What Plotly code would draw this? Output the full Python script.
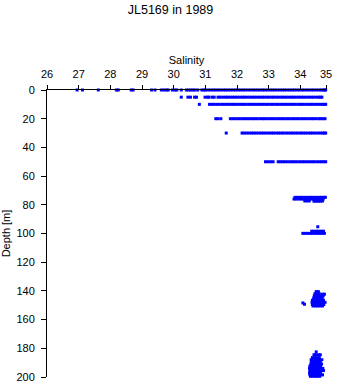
import plotly.graph_objects as go

# ---- data ----
x_tick_vals = [26, 27, 28, 29, 30, 31, 32, 33, 34, 34.81]
x_tick_text = ["26", "27", "28", "29", "30", "31", "32", "33", "34", "35"]
y_tick_vals = [0, 20, 40, 60, 80, 100, 120, 140, 160, 180, 200]

# Surface (0 m)
depth_0 = 0
sal_0 = [26.95, 27.12, 27.62, 28.19, 28.25, 28.66, 28.72, 29.30, 29.41, 29.61, 29.69,
         29.77, 29.83, 29.96, 30.04, 30.10, 30.24, 30.40, 30.47, 30.54, 30.61, 30.67,
         30.76, 30.89, 30.96, 31.01,
         31.10, 31.18, 31.26, 31.33, 31.41, 31.49, 31.57, 31.64, 31.72, 31.80, 31.88,
         31.95, 32.03, 32.11, 32.19, 32.26, 32.34, 32.42, 32.50, 32.57, 32.65, 32.73,
         32.81, 32.88, 32.96, 33.04, 33.12, 33.19, 33.27, 33.35, 33.43, 33.50, 33.58,
         33.66, 33.74, 33.81, 33.89, 33.97, 34.05, 34.12, 34.20, 34.28, 34.36, 34.43,
         34.51, 34.59, 34.66, 34.72, 34.77, 34.80]

# 5 m
depth_5 = 5
sal_5 = [30.24, 30.45, 30.53, 30.66, 30.72, 30.99, 31.07, 31.11, 31.21, 31.28,
         31.40, 31.47, 31.55, 31.63, 31.70, 31.78, 31.86, 31.93, 32.01, 32.09, 32.17,
         32.24, 32.32, 32.40, 32.48, 32.55, 32.63, 32.71, 32.79, 32.86, 32.94, 33.02,
         33.10, 33.17, 33.25, 33.33, 33.41, 33.48, 33.56, 33.64, 33.72, 33.79, 33.87,
         33.95, 34.03, 34.10, 34.18, 34.26, 34.34, 34.41, 34.49, 34.57, 34.63, 34.68]

# 10 m
depth_10 = 10
sal_10 = [30.81,
          31.13, 31.21, 31.28, 31.36, 31.44, 31.52, 31.59, 31.67, 31.75, 31.83, 31.90,
          31.98, 32.06, 32.14, 32.21, 32.29, 32.37, 32.45, 32.52, 32.60, 32.68, 32.76,
          32.83, 32.91, 32.99, 33.07, 33.14, 33.22, 33.30, 33.38, 33.45, 33.53, 33.61,
          33.69, 33.76, 33.84, 33.92, 34.00, 34.07, 34.15, 34.23, 34.31, 34.38, 34.46,
          34.54, 34.62, 34.69, 34.75, 34.80]

# 20 m
depth_20 = 20
sal_20 = [31.33, 31.40, 31.49,
          31.79, 31.87, 31.94, 32.02, 32.10, 32.18, 32.25, 32.33, 32.41, 32.49, 32.56,
          32.64, 32.72, 32.80, 32.87, 32.95, 33.03, 33.11, 33.18, 33.26, 33.34, 33.42,
          33.49, 33.57, 33.65, 33.73, 33.80, 33.88, 33.96, 34.04, 34.11, 34.19, 34.27,
          34.35, 34.42, 34.50, 34.58, 34.65, 34.72, 34.78]

# 30 m
depth_30 = 30
sal_30 = [31.66, 32.16, 32.22,
          32.30, 32.38, 32.46, 32.53, 32.61, 32.69, 32.77, 32.84, 32.92, 33.00, 33.08,
          33.15, 33.23, 33.31, 33.39, 33.46, 33.54, 33.62, 33.70, 33.77, 33.85, 33.93,
          34.01, 34.08, 34.16, 34.24, 34.32, 34.39, 34.47, 34.55, 34.63, 34.70, 34.76,
          34.80]

# 50 m
depth_50 = 50
sal_50 = [32.90, 32.98, 33.06, 33.14,
          33.30, 33.37, 33.44, 33.51, 33.59, 33.67, 33.75, 33.82, 33.90, 33.98, 34.06,
          34.13, 34.21, 34.29, 34.37, 34.44, 34.52, 34.60, 34.67, 34.74, 34.80]

# deeper scattered samples (salinity, depth pairs)
sal_deep = [
    # ~75 m
    33.83, 33.91, 33.99, 34.06, 34.14, 34.22, 34.30, 34.37, 34.45, 34.53, 34.61,
    34.68, 34.75, 34.79,
    33.80, 33.87, 33.95, 34.03, 34.10, 34.18, 34.26, 34.34, 34.41, 34.49, 34.57,
    34.65, 34.72, 34.82,
    34.14, 34.21, 34.28, 34.43, 34.50, 34.57, 34.64, 34.70,
    # ~95-100 m
    34.55,
    34.36, 34.43, 34.51, 34.58, 34.66, 34.73,
    34.08, 34.15, 34.23, 34.31, 34.38, 34.46, 34.54, 34.61, 34.69, 34.76, 34.82,
    # ~140-150 m
    34.50, 34.57,
    34.46, 34.53, 34.60, 34.70, 34.76,
    34.44, 34.51, 34.58, 34.65, 34.72,
    34.42, 34.49, 34.56, 34.63, 34.69,
    34.38, 34.45, 34.52, 34.59, 34.66, 34.73, 34.82,
    34.37, 34.44, 34.51, 34.58, 34.65, 34.72, 34.78, 34.86,
    34.38, 34.45, 34.52, 34.59, 34.66, 34.74,
    34.40, 34.48, 34.55, 34.62, 34.70,
    34.08, 34.13,
    # ~182-200 m
    34.50,
    34.43, 34.48, 34.57, 34.63,
    34.38, 34.45, 34.52, 34.60,
    34.34, 34.41, 34.48, 34.55, 34.62, 34.68,
    34.35, 34.42, 34.49, 34.56, 34.63,
    34.33, 34.40, 34.47, 34.54, 34.61, 34.67,
    34.30, 34.37, 34.44, 34.51, 34.58, 34.64,
    34.29, 34.36, 34.43, 34.50, 34.57, 34.64, 34.71,
    34.30, 34.37, 34.44, 34.51, 34.58, 34.65, 34.73,
    34.29, 34.36, 34.43, 34.50, 34.57, 34.64,
    34.30, 34.37, 34.44, 34.51, 34.58, 34.65, 34.70,
    34.32, 34.40, 34.47, 34.54, 34.61, 34.84,
]
depth_deep = [
    74.8, 74.8, 74.8, 74.8, 74.8, 74.8, 74.8, 74.8, 74.8, 74.8, 74.8,
    74.8, 74.8, 74.8,
    76.0, 76.0, 76.0, 76.0, 76.0, 76.0, 76.0, 76.0, 76.0, 76.0, 76.0,
    76.0, 76.0, 76.0,
    77.3, 77.3, 77.3, 77.5, 77.5, 77.5, 77.5, 77.3,
    95.3,
    98.4, 98.4, 98.4, 98.4, 98.4, 98.4,
    99.9, 99.9, 99.9, 99.9, 99.9, 99.9, 99.9, 99.9, 99.9, 99.9, 99.9,
    140.5, 140.5,
    142.0, 142.0, 142.0, 142.3, 142.3,
    143.5, 143.5, 143.5, 143.5, 143.5,
    145.0, 145.0, 145.0, 145.0, 145.0,
    146.5, 146.5, 146.5, 146.5, 146.5, 146.5, 146.8,
    148.0, 148.0, 148.0, 148.0, 148.0, 148.0, 148.0, 147.6,
    149.5, 149.5, 149.5, 149.5, 149.5, 149.5,
    150.5, 150.5, 150.5, 150.5, 150.5,
    148.4, 149.3,
    182.5,
    184.5, 184.5, 184.5, 184.5,
    186.5, 186.5, 186.5, 186.5,
    188.0, 188.0, 188.0, 188.0, 188.0, 188.0,
    189.5, 189.5, 189.5, 189.5, 189.5,
    191.0, 191.0, 191.0, 191.0, 191.0, 191.0,
    192.5, 192.5, 192.5, 192.5, 192.5, 192.5,
    194.0, 194.0, 194.0, 194.0, 194.0, 194.0, 194.0,
    195.5, 195.5, 195.5, 195.5, 195.5, 195.5, 195.5,
    197.0, 197.0, 197.0, 197.0, 197.0, 197.0,
    198.5, 198.5, 198.5, 198.5, 198.5, 198.5, 198.5,
    199.5, 199.5, 199.5, 199.5, 199.5, 199.3,
]

# ---- assemble ----
sal_all = []
dep_all = []
for lvl, sals in [(depth_0, sal_0), (depth_5, sal_5), (depth_10, sal_10),
                  (depth_20, sal_20), (depth_30, sal_30), (depth_50, sal_50)]:
    sal_all += sals
    dep_all += [lvl] * len(sals)
sal_all += sal_deep
dep_all += depth_deep

FONT = "Liberation Sans, Arial, Helvetica, sans-serif"

fig = go.Figure()
fig.add_trace(go.Scatter(
    x=sal_all, y=dep_all, mode="markers",
    marker=dict(symbol="square", size=3, color="#0000ff", line=dict(width=0)),
    cliponaxis=False, hoverinfo="x+y", showlegend=False,
))

fig.update_layout(
    width=341, height=384,
    margin=dict(l=47, r=15, t=90, b=7, pad=0),
    paper_bgcolor="white", plot_bgcolor="white",
    font=dict(family=FONT, size=11, color="black"),
    title=dict(text="JL5169 in 1989", x=0.5, xanchor="center", xref="container",
               y=1 - 10 / 384, yanchor="middle", yref="container",
               font=dict(family=FONT, size=12.5, color="black")),
    xaxis=dict(
        side="top", range=[26, 34.81], showgrid=False, zeroline=False,
        showline=True, linecolor="black", linewidth=1,
        ticks="outside", ticklen=4, tickcolor="black", tickwidth=1,
        tickvals=x_tick_vals, ticktext=x_tick_text,
        tickfont=dict(size=11), ticklabelstandoff=3,
        title=dict(text="Salinity", font=dict(size=11), standoff=0),
        automargin=False,
    ),
    yaxis=dict(
        range=[200, 0], showgrid=False, zeroline=False,
        showline=True, linecolor="black", linewidth=1,
        ticks="outside", ticklen=5, tickcolor="black", tickwidth=1,
        tickvals=y_tick_vals, tickfont=dict(size=11), ticklabelstandoff=4,
        title=dict(text="Depth [m]", font=dict(size=11), standoff=4),
        automargin=False,
    ),
)

fig.write_html("out.html")
